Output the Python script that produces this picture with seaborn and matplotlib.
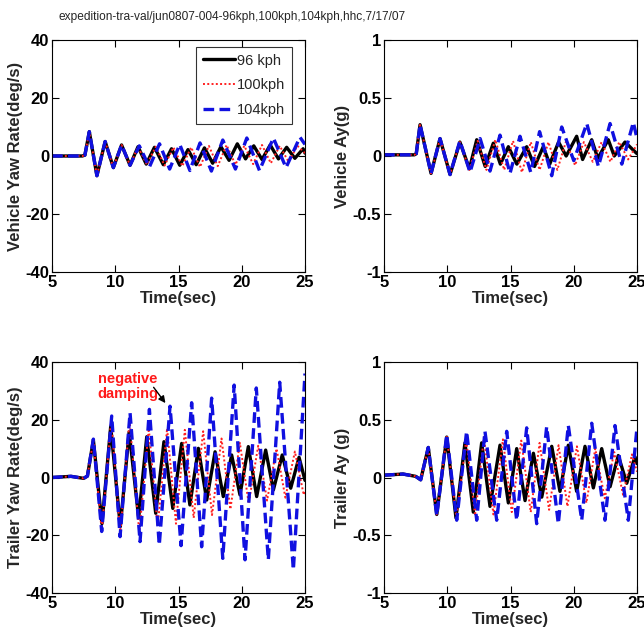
import matplotlib
matplotlib.use("Agg")
import matplotlib.pyplot as plt
import seaborn as sns

# ---------------- data (extrema) ----------------
title = "expedition-tra-val/jun0807-004-96kph,100kph,104kph,hhc,7/17/07"
series_labels = ["96 kph", "100kph", "104kph"]

# Vehicle yaw rate (deg/s)
tl_96_t = [5, 7.4, 7.6, 7.95, 8.55, 9.2, 9.85, 10.5, 11.17, 11.8, 12.45, 13.1, 13.8, 14.45, 15.1, 15.75, 16.4, 17.05,
           17.7, 18.35, 19.0, 19.65, 20.3, 20.95, 21.6, 22.25, 22.9, 23.55, 24.2, 24.85, 25.0]
tl_96_v = [0, 0, 0.3, 8.4, -6.8, 5.0, -4.0, 3.8, -3.2, 3.2, -2.8, 3.0, -3.0, 2.5, -3.2, 2.2, -3.0, 2.8,
           -2.5, 3.2, -1.5, 4.2, -1.0, 3.5, -1.2, 3.8, -1.0, 3.0, -0.8, 2.5, 1.0]
tl_100_t = [5, 7.4, 7.6, 7.95, 8.55, 9.2, 9.85, 10.5, 11.17, 11.8, 12.5, 13.2, 13.9, 14.6, 15.3, 16.0, 16.7, 17.4,
            18.1, 18.8, 19.5, 20.2, 20.9, 21.6, 22.3, 23.0, 23.7, 24.4, 25.0]
tl_100_v = [0, 0, 0.3, 8.4, -6.8, 5.0, -4.0, 3.8, -3.2, 3.2, -3.0, 3.2, -3.3, 3.0, -3.5, 3.0, -3.8, 3.5,
            -3.5, 3.8, -3.0, 3.5, -2.8, 3.8, -2.5, 3.5, -2.0, 3.5, 1.0]
tl_104_t = [5, 7.4, 7.6, 7.95, 8.55, 9.2, 9.85, 10.5, 11.17, 11.9, 12.7, 13.5, 14.3, 15.1, 15.9, 16.7, 17.6,
            18.5, 19.5, 20.4, 21.4, 22.5, 23.5, 24.6, 25.0]
tl_104_v = [0, 0, 0.3, 8.4, -6.8, 5.0, -4.0, 3.8, -3.2, 3.5, -3.8, 4.2, -4.5, 4.0, -5.0, 4.5, -5.2,
            5.5, -4.5, 6.2, -5.0, 6.2, -4.0, 6.5, 4.0]

# Vehicle Ay (g)
tr_96_t = [5, 7.4, 7.55, 7.85, 8.72, 9.43, 10.22, 11.0, 11.75, 12.33, 13.0, 13.64, 14.2, 14.83, 15.5, 16.28, 16.9,
           17.59, 18.1, 18.8, 19.4, 20.23, 20.7, 21.42, 21.9, 22.73, 23.2, 24.05, 25.0]
tr_96_v = [0.01, 0.01, 0.02, 0.27, -0.15, 0.15, -0.16, 0.12, -0.11, 0.14, -0.09, 0.11, -0.07, 0.08, -0.07, 0.08, -0.09,
           0.08, -0.07, 0.12, 0.0, 0.17, -0.03, 0.14, -0.02, 0.14, 0.0, 0.12, 0.02]
tr_100_t = [5, 7.4, 7.55, 7.85, 8.72, 9.43, 10.22, 11.0, 11.75, 12.4, 13.1, 13.8, 14.5, 15.2, 15.9, 16.6, 17.3, 18.0,
            18.7, 19.4, 20.1, 20.8, 21.5, 22.2, 22.9, 23.6, 24.3, 25.0]
tr_100_v = [0.01, 0.01, 0.02, 0.27, -0.15, 0.15, -0.16, 0.12, -0.12, 0.13, -0.12, 0.14, -0.12, 0.13, -0.14, 0.12, -0.12,
            0.12, -0.12, 0.13, -0.08, 0.12, -0.05, 0.12, -0.05, 0.12, -0.03, 0.1]
tr_104_t = [5, 7.4, 7.55, 7.85, 8.72, 9.43, 10.22, 11.0, 11.8, 12.6, 13.38, 14.17, 14.96, 15.75, 16.6, 17.3, 18.26,
            19.05, 20.0, 21.03, 21.95, 22.87, 23.8, 24.71, 25.0]
tr_104_v = [0.01, 0.01, 0.02, 0.27, -0.15, 0.15, -0.16, 0.13, -0.14, 0.15, -0.13, 0.18, -0.15, 0.17, -0.14, 0.21, -0.17,
            0.25, -0.04, 0.28, -0.09, 0.28, -0.07, 0.29, 0.15]

# Trailer yaw rate (deg/s)
bl_96_t = [5, 6.5, 7.5, 7.8, 8.27, 8.95, 9.64, 10.4, 11.1, 11.85, 12.49, 13.2, 13.85, 14.55, 15.25, 15.9, 16.57,
           17.23, 17.89, 18.54, 19.2, 19.86, 20.52, 21.18, 21.89, 22.5, 23.2, 23.87, 24.53, 25.0]
bl_96_v = [0, 0.4, -0.3, 0.5, 13.0, -16.0, 17.6, -17.0, 15.8, -14.0, 14.1, -12.4, 12.4, -10.7, 11.8, -9.5, 10.1,
           -7.8, 8.9, -6.6, 7.8, -6.0, 10.7, -6.6, 9.5, -4.3, 7.8, -3.7, 7.0, -1.0]
bl_100_t = [5, 6.5, 7.5, 7.8, 8.27, 8.93, 9.68, 10.4, 11.13, 11.9, 12.65, 13.35, 14.1, 14.8, 15.5, 16.2, 16.95,
            17.65, 18.4, 19.1, 19.85, 20.55, 21.3, 22.0, 22.75, 23.45, 24.2, 24.9, 25.0]
bl_100_v = [0, 0.4, -0.3, 0.5, 13.0, -18.5, 20.0, -19.5, 20.0, -19.0, 17.0, -17.0, 17.0, -16.0, 16.5, -14.0, 16.0,
            -13.0, 13.5, -11.0, 12.0, -9.0, 11.0, -8.0, 10.0, -7.0, 9.0, -6.0, -5.0]
bl_104_t = [5, 6.5, 7.5, 7.8, 8.27, 8.93, 9.72, 10.38, 11.17, 11.96, 12.7, 13.48, 14.33, 15.2, 16.04, 16.83, 17.62,
            18.5, 19.4, 20.26, 21.15, 22.1, 23.0, 24.08, 25.0]
bl_104_v = [0, 0.4, -0.3, 0.5, 13.3, -18.7, 21.3, -20.5, 22.4, -22.2, 23.6, -23.4, 24.7, -23.6, 25.9, -24.0, 27.5,
            -28.0, 32.0, -28.5, 31.0, -28.5, 33.0, -32.0, 36.0]

# Trailer Ay (g)
br_96_t = [5, 6.5, 7.5, 7.9, 8.5, 9.17, 9.96, 10.69, 11.4, 12.06, 12.72, 13.38, 14.17, 14.83, 15.49, 16.15, 16.81,
           17.47, 18.26, 18.91, 19.57, 20.23, 20.89, 21.55, 22.21, 22.87, 23.52, 24.19, 24.84, 25.0]
br_96_v = [0.02, 0.03, 0.01, -0.02, 0.26, -0.32, 0.35, -0.35, 0.3, -0.3, 0.3, -0.25, 0.28, -0.22, 0.25, -0.2, 0.21,
           -0.17, 0.27, -0.12, 0.28, -0.12, 0.27, -0.09, 0.25, -0.08, 0.19, -0.05, 0.18, 0.12]
br_100_t = [5, 6.5, 7.5, 7.9, 8.5, 9.17, 9.96, 10.72, 11.5, 12.2, 12.9, 13.65, 14.4, 15.1, 15.85, 16.6, 17.3, 18.05,
            18.8, 19.5, 20.25, 21.0, 21.7, 22.45, 23.2, 23.9, 24.6, 25.0]
br_100_v = [0.02, 0.03, 0.01, -0.02, 0.26, -0.32, 0.36, -0.35, 0.33, -0.33, 0.35, -0.32, 0.33, -0.3, 0.32, -0.3, 0.3,
            -0.28, 0.28, -0.25, 0.27, -0.22, 0.25, -0.18, 0.22, -0.15, 0.2, 0.05]
br_104_t = [5, 6.5, 7.5, 7.9, 8.5, 9.17, 9.96, 10.75, 11.53, 12.33, 12.98, 13.91, 14.7, 15.49, 16.28, 17.07, 17.86,
            18.78, 19.57, 20.63, 21.42, 22.47, 23.26, 24.31, 24.98]
br_104_v = [0.02, 0.03, 0.01, -0.02, 0.26, -0.33, 0.37, -0.37, 0.4, -0.37, 0.4, -0.37, 0.4, -0.37, 0.43, -0.4, 0.44,
            -0.4, 0.45, -0.37, 0.47, -0.37, 0.45, -0.37, 0.41]

x_ticks = [5, 10, 15, 20, 25]
yaw_ticks = [-40, -20, 0, 20, 40]
yaw_ticklabels = ["-40", "-20", "0", "20", "40"]
ay_ticks = [-1, -0.5, 0, 0.5, 1]
ay_ticklabels = ["-1", "-0.5", "0", "0.5", "1"]

# ---------------- plotting ----------------
sns.set_theme(style="white")
plt.rcParams["font.family"] = ["Liberation Sans", "DejaVu Sans"]
plt.rcParams["lines.solid_joinstyle"] = "round"
plt.rcParams["lines.dash_joinstyle"] = "round"

fig = plt.figure(figsize=(6.44, 6.39), dpi=100)
fig.patch.set_facecolor("white")

W, H = 644, 639
def axes_px(left, right, top, bottom):
    return fig.add_axes([left / W, 1 - bottom / H, (right - left) / W, (bottom - top) / H])

ax_tl = axes_px(52, 305, 40, 272)
ax_tr = axes_px(384, 637, 40, 272)
ax_bl = axes_px(52, 305, 362, 593)
ax_br = axes_px(384, 637, 362, 593)

styles = [dict(color="black", linestyle="-", linewidth=2.4),
          dict(color="#ff2020", linestyle=(0, (1, 1.2)), linewidth=1.4),
          dict(color="#1010e0", linestyle=(0, (3.2, 1.6)), linewidth=2.4)]

panels = [
    (ax_tl, [(tl_96_t, tl_96_v), (tl_100_t, tl_100_v), (tl_104_t, tl_104_v)], "Vehicle Yaw Rate(deg/s)", "yaw"),
    (ax_tr, [(tr_96_t, tr_96_v), (tr_100_t, tr_100_v), (tr_104_t, tr_104_v)], "Vehicle Ay(g)", "ay"),
    (ax_bl, [(bl_96_t, bl_96_v), (bl_100_t, bl_100_v), (bl_104_t, bl_104_v)], "Trailer Yaw Rate(deg/s)", "yaw"),
    (ax_br, [(br_96_t, br_96_v), (br_100_t, br_100_v), (br_104_t, br_104_v)], "Trailer Ay (g)", "ay"),
]

fs = 12
for ax, data, ylab, kind in panels:
    for (t, v), st, lab in zip(data, styles, series_labels):
        sns.lineplot(x=t, y=v, ax=ax, label=lab, legend=False, sort=False, **st)
    ax.set_xlim(5, 25)
    ax.set_xticks(x_ticks)
    ax.set_xticklabels([str(x) for x in x_ticks], fontsize=fs, fontweight="bold")
    if kind == "yaw":
        ax.set_ylim(-40, 40)
        ax.set_yticks(yaw_ticks)
        ax.set_yticklabels(yaw_ticklabels, fontsize=fs, fontweight="bold")
    else:
        ax.set_ylim(-1, 1)
        ax.set_yticks(ay_ticks)
        ax.set_yticklabels(ay_ticklabels, fontsize=fs, fontweight="bold")
    ax.set_xlabel("Time(sec)", fontsize=fs, fontweight="bold", labelpad=1)
    ax.set_ylabel(ylab, fontsize=fs, fontweight="bold", labelpad=2)
    ax.set_facecolor("white")
    ax.tick_params(direction="in", top=True, right=True, length=5, width=0.8, pad=2,
                   bottom=True, left=True, colors="black")
    for sp in ax.spines.values():
        sp.set_visible(True)
        sp.set_color("black")
        sp.set_linewidth(0.8)

leg = ax_tl.legend(loc="upper right", fontsize=10.5, frameon=True, fancybox=False,
                   handlelength=2.2, handletextpad=0.15, borderpad=0.45, labelspacing=0.75,
                   borderaxespad=0.0, bbox_to_anchor=(0.949, 0.97))
leg.get_frame().set_edgecolor("black")
leg.get_frame().set_linewidth(0.8)

ax_bl.text(10.97, 31.5, "negative\ndamping", color="#ff1a1a", fontsize=10.5, fontweight="bold",
           ha="center", va="center", linespacing=1.1)
ax_bl.annotate("", xy=(14.1, 25.0), xytext=(12.9, 32.0),
               arrowprops=dict(arrowstyle="-|>", color="black", lw=1.0, mutation_scale=10))

fig.text(232 / W, 1 - 17 / H, title, ha="center", va="center", fontsize=8.6)

fig.savefig("out.png", dpi=100, facecolor="white")
